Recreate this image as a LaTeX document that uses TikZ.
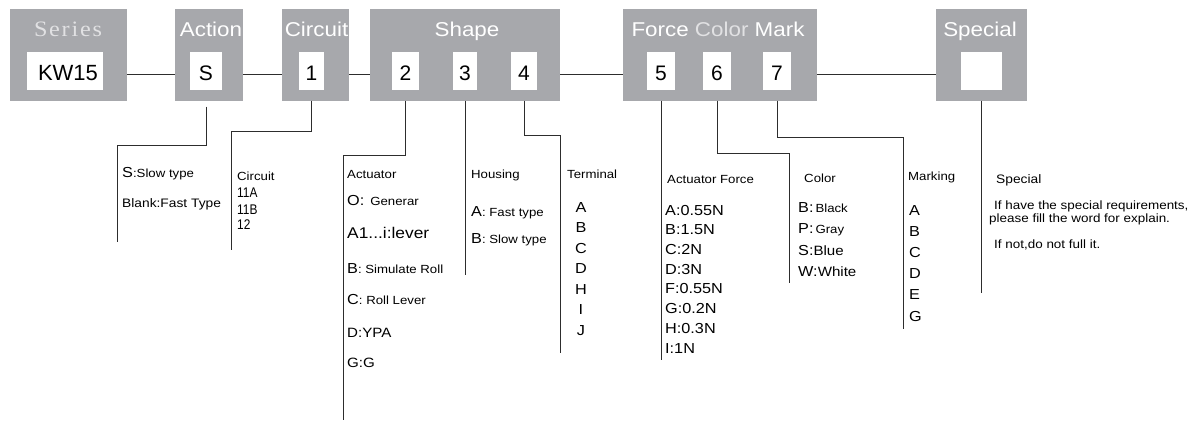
\documentclass[tikz,border=0pt]{standalone}
\usepackage{fontspec}
\setmainfont{Liberation Sans}
\newfontfamily\widefont[FakeStretch=1.12]{Liberation Sans}
\newfontfamily\narrowfont[FakeStretch=0.85]{Liberation Sans}
\newfontfamily\serfont[FakeStretch=1.1,LetterSpace=8]{Liberation Serif}
\usetikzlibrary{calc}
\definecolor{boxgray}{RGB}{167,168,172}
\definecolor{lightt}{RGB}{225,225,227}
\definecolor{linec}{RGB}{45,45,45}
\newcommand\fsz[1]{\fontsize{#1}{#1}\selectfont}
\begin{document}
\begin{tikzpicture}[x=1pt,y=-1pt,
  gbox/.style={fill=boxgray, draw=none, inner sep=0, minimum height=92pt},
  wbox/.style={fill=white, draw=none, inner sep=0, minimum height=38pt, text height=18pt, text depth=0pt, font=\fsz{21}},
  hdr/.style={anchor=base, inner sep=0, text=white, font=\widefont\fsz{20}},
  lbl/.style={anchor=base west, inner sep=0, font=\widefont\fsz{11.8}},
  big/.style={lbl, font=\widefont\fsz{14.5}},
  conn/.style={draw=linec, line width=0.8pt}]
\useasboundingbox (0,0) rectangle (1192,421);
% gray boxes
\node[gbox, minimum width=117pt] (gSeries) at (68.5,54.5) {};
\node[gbox, minimum width=68pt] (gAction) at (209,54.5) {};
\node[gbox, minimum width=67pt] (gCircuit) at (315.5,54.5) {};
\node[gbox, minimum width=190pt] (gShape) at (465,54.5) {};
\node[gbox, minimum width=194pt] (gFCM) at (720,54.5) {};
\node[gbox, minimum width=91pt] (gSpecial) at (981.5,54.5) {};
% white boxes
\node[wbox, minimum width=76pt, font=\fsz{22}] (bKW) at (65,71) {\hspace{6pt}KW15};
\node[wbox, minimum width=32pt] (bS) at (206,71) {S};
\node[wbox, minimum width=25pt] (b1) at (311.5,71) {1};
\node[wbox, minimum width=27pt] (b2) at (405.5,71) {2};
\node[wbox, minimum width=24.6pt] (b3) at (465,71) {3};
\node[wbox, minimum width=26pt] (b4) at (524,71) {4};
\node[wbox, minimum width=28pt] (b5) at (661,71) {5};
\node[wbox, minimum width=28pt] (b6) at (717,71) {6};
\node[wbox, minimum width=28pt] (b7) at (777,71) {7};
\node[wbox, minimum width=41pt] (bSp) at (981.5,71) {};
% headers
\node[hdr, text=lightt, font=\serfont\fsz{22}] (tSeries) at (68,36) {Series};
\node[hdr] (tAction) at (211,36) {Action};
\node[hdr] (tCircuit) at (316.5,36) {Circuit};
\node[hdr] (tShape) at (467,36) {Shape};
\node[hdr] (tFCM) at (718,36) {Force \textcolor{lightt}{Color} Mark};
\node[hdr] (tSpecial) at (980,36) {Special};
% horizontal links
\coordinate (hl) at (0,74);
\draw[conn] (gSeries.east |- hl) -- (gAction.west |- hl);
\draw[conn] (gAction.east |- hl) -- (gCircuit.west |- hl);
\draw[conn] (gCircuit.east |- hl) -- (gShape.west |- hl);
\draw[conn] (gShape.east |- hl) -- (gFCM.west |- hl);
\draw[conn] (gFCM.east |- hl) -- (gSpecial.west |- hl);
% vertical connectors
\coordinate (kS) at (117,145); \coordinate (eS) at (117,242);
\draw[conn] ($(bS.center |- gAction.south)+(0,6)$) |- (kS) -- (eS);
\coordinate (k1) at (231,131); \coordinate (e1) at (231,250);
\draw[conn] (b1.center |- gCircuit.south) |- (k1) -- (e1);
\coordinate (k2) at (343,155); \coordinate (e2) at (343,420);
\draw[conn] (b2.center |- gShape.south) |- (k2) -- (e2);
\coordinate (e3) at (466,275);
\draw[conn] (b3.center |- gShape.south) -- (b3.center |- e3);
\coordinate (k4) at (560,135); \coordinate (e4) at (560,353);
\draw[conn] (b4.center |- gShape.south) |- (k4) -- (e4);
\coordinate (e5) at (663,360);
\draw[conn] (b5.center |- gFCM.south) -- (b5.center |- e5);
\coordinate (k6) at (789,153); \coordinate (e6) at (789,283);
\draw[conn] (b6.center |- gFCM.south) |- (k6) -- (e6);
\coordinate (k7) at (903,137); \coordinate (e7) at (903,329);
\draw[conn] (b7.center |- gFCM.south) |- (k7) -- (e7);
\coordinate (eSp) at (981,293);
\draw[conn] (bSp.center |- gSpecial.south) -- (bSp.center |- eSp);
% Action descriptions
\node[lbl] (dS1) at (122,177) {{\fsz{14.5}S}:Slow type};
\node[lbl, font=\widefont\fsz{12.3}] (dS2) at (122,207) {Blank:Fast Type};
% Circuit descriptions
\node[lbl] (dC0) at (237,180) {Circuit};
\node[lbl, font=\narrowfont\fsz{14}] (dC1) at (237,197) {11A};
\node[lbl, font=\narrowfont\fsz{14}] (dC2) at (237,214) {11B};
\node[lbl, font=\narrowfont\fsz{14}] (dC3) at (237,229) {12};
% Actuator
\node[lbl] (dA0) at (347,178) {Actuator};
\node[lbl] (dA1) at (347,205) {{\fsz{14.5}O:}\hspace{6pt}Generar};
\node[lbl, font=\widefont\fsz{15.5}] (dA2) at (347,238) {A1...i:lever};
\node[lbl] (dA3) at (347,273) {{\fsz{14.5}B}: Simulate Roll};
\node[lbl] (dA4) at (347,304) {{\fsz{14.5}C}: Roll Lever};
\node[lbl, font=\widefont\fsz{13.5}] (dA5) at (347,337) {D:YPA};
\node[lbl, font=\widefont\fsz{13.5}] (dA6) at (347,367) {G:G};
% Housing
\node[lbl] (dH0) at (471,178) {Housing};
\node[lbl] (dH1) at (471,216) {{\fsz{14.5}A}: Fast type};
\node[lbl] (dH2) at (471,243) {{\fsz{14.5}B}: Slow type};
% Terminal
\node[lbl] (dT0) at (567,178) {Terminal};
\node[big, anchor=base] (dT1) at (581,212) {A};
\node[big, anchor=base] (dT2) at (581,232.5) {B};
\node[big, anchor=base] (dT3) at (581,253) {C};
\node[big, anchor=base] (dT4) at (581,273.5) {D};
\node[big, anchor=base] (dT5) at (581,294) {H};
\node[big, anchor=base] (dT6) at (581,314.5) {I};
\node[big, anchor=base] (dT7) at (581,335) {J};
% Actuator force
\node[lbl] (dF0) at (667,183) {Actuator Force};
\node[big] (dF1) at (665,215) {A:0.55N};
\node[big] (dF2) at (665,234.7) {B:1.5N};
\node[big] (dF3) at (665,254.4) {C:2N};
\node[big] (dF4) at (665,274.1) {D:3N};
\node[big] (dF5) at (665,293.8) {F:0.55N};
\node[big] (dF6) at (665,313.5) {G:0.2N};
\node[big] (dF7) at (665,333.2) {H:0.3N};
\node[big] (dF8) at (665,353) {I:1N};
% Color
\node[lbl] (dK0) at (804,182) {Color};
\node[lbl] (dK1) at (798,212) {{\fsz{14.5}B:}\,Black};
\node[lbl] (dK2) at (798,233) {{\fsz{14.5}P:}\,Gray};
\node[lbl, font=\widefont\fsz{13.5}] (dK3) at (798,255) {{\fsz{14.5}S:}Blue};
\node[lbl, font=\widefont\fsz{13.5}] (dK4) at (798,276) {{\fsz{14.5}W:}White};
% Marking
\node[lbl] (dM0) at (908,180) {Marking};
\node[big] (dM1) at (909,215) {A};
\node[big] (dM2) at (909,236) {B};
\node[big] (dM3) at (909,257.5) {C};
\node[big] (dM4) at (909,278.5) {D};
\node[big] (dM5) at (909,299.5) {E};
\node[big] (dM6) at (909,321) {G};
% Special
\node[lbl, font=\widefont\fsz{12.3}] (dP0) at (996,183) {Special};
\node[lbl, font=\widefont\fsz{12}] (dP1) at (994,209) {If have the special requirements,};
\node[lbl, font=\widefont\fsz{12}] (dP2) at (989,222) {please fill the word for explain.};
\node[lbl, font=\widefont\fsz{12}] (dP3) at (994,248) {If not,do not full it.};
\end{tikzpicture}
\end{document}
